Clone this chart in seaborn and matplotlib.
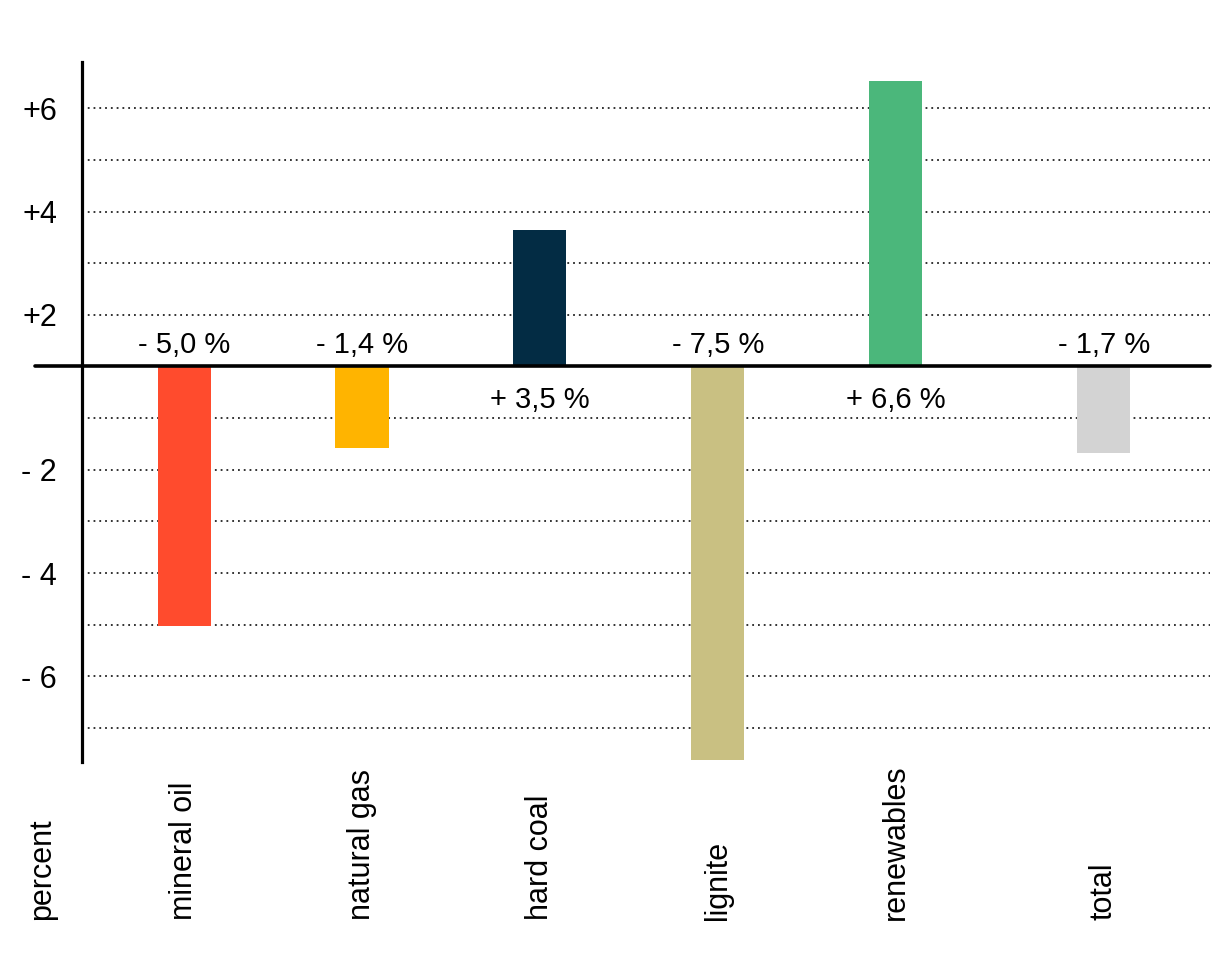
import matplotlib
matplotlib.use("Agg")
import matplotlib.pyplot as plt
import numpy as np
import pandas as pd
import seaborn as sns

# ---- data ----
categories = ["mineral oil", "natural gas", "hard coal", "lignite", "renewables", "total"]
change = [-5.02, -1.57, 2.64, -7.62, 5.53, -1.68]
value_labels = ["- 5,0 %", "- 1,4 %", "+ 3,5 %", "- 7,5 %", "+ 6,6 %", "- 1,7 %"]
bar_colors = ["#FF4B2D", "#FFB400", "#032C44", "#C9C082", "#4BB77B", "#D3D3D3"]
ytick_pos = [5, 4, 3, 2, 1, -1, -2, -3, -4, -5, -6, -7]
ytick_labels = ["+6", "", "+4", "", "+2", "", "- 2", "", "- 4", "", "- 6", ""]
unit_label = "percent"

# ---- layout ----
xpos = [0, 1, 2, 3, 4, 5.17]

sns.set_theme(style="white")
plt.rcParams["font.family"] = ["Liberation Sans", "DejaVu Sans"]
FS = 21

W, H = 1219, 964
fig = plt.figure(figsize=(W / 100, H / 100), dpi=100)
ax = fig.add_axes([82 / W, 1 - 762 / H, (1210 - 82) / W, (762 - 62) / H])

df = pd.DataFrame({"category": categories, "change": change, "xpos": xpos})
sns.barplot(data=df, x="xpos", y="change", hue="category",
            palette=dict(zip(categories, bar_colors)), native_scale=True,
            width=0.298, dodge=False, saturation=1, legend=False,
            errorbar=None, ax=ax, linewidth=0, zorder=2)

ax.set_xlim(-0.574, 5.767)
ax.set_ylim(-7.657, 5.895)

# y ticks / grid
ax.set_yticks(ytick_pos)
ax.set_yticklabels(ytick_labels, fontsize=FS + 1, color="black")
ax.tick_params(axis="y", length=0, pad=18)
ax.yaxis.grid(True, linestyle=(0, (1, 2.2)), color="#222222", linewidth=1.3, zorder=0)
ax.xaxis.grid(False)
ax.set_axisbelow(True)

# x tick labels (bottom-aligned, rotated)
ax.set_xticks(xpos)
ax.set_xticklabels(categories, rotation=90, va="bottom", ha="center",
                   fontsize=FS + 1, color="black")
ax.tick_params(axis="x", length=0, pad=113.8)
ax.set_xlabel("")
ax.set_ylabel("")

for s in ["top", "right", "bottom"]:
    ax.spines[s].set_visible(False)
ax.spines["left"].set_color("black")
ax.spines["left"].set_linewidth(2.3)
ax.spines["left"].set_zorder(5)

# zero line extending left of the axis
ax.axhline(0, xmin=(35 - 82) / (1210 - 82), xmax=1, color="black",
           linewidth=2.6, clip_on=False, zorder=4)

# value labels
for x, v, lab in zip(xpos, change, value_labels):
    if v < 0:
        ax.annotate(lab, xy=(x, 0), xytext=(0, 9.7), textcoords="offset points",
                    ha="center", va="baseline", fontsize=FS, color="black")
    else:
        ax.annotate(lab, xy=(x, 0), xytext=(0, -30), textcoords="offset points",
                    ha="center", va="baseline", fontsize=FS, color="black")

fig.text(42 / W, 1 - 920 / H, unit_label, rotation=90, ha="center", va="bottom",
         fontsize=FS + 1, color="black")

fig.savefig("out.png", dpi=100, facecolor="white")
